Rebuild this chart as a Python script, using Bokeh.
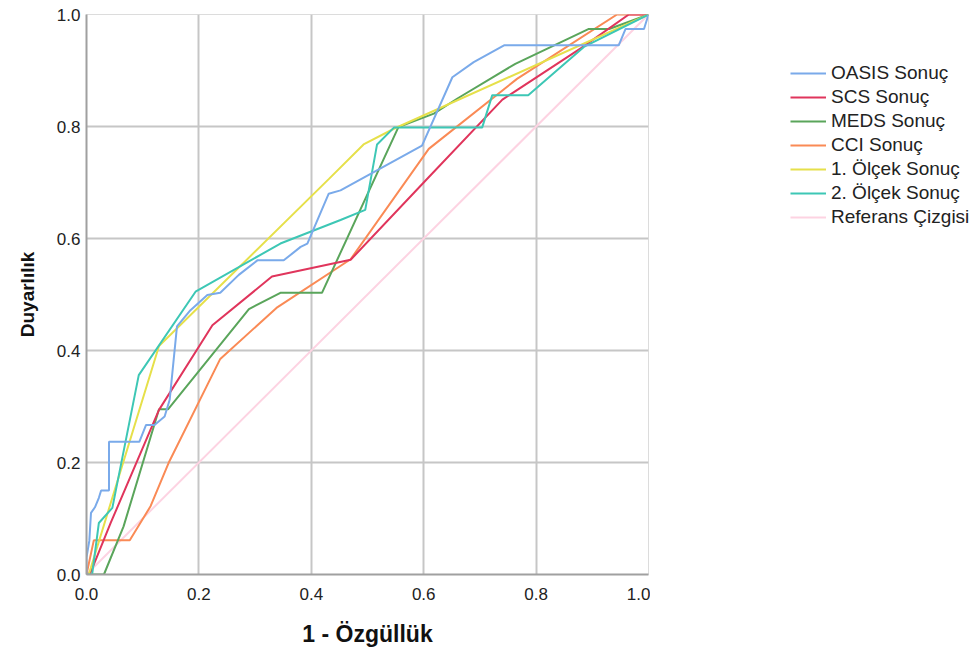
from bokeh.plotting import figure
from bokeh.models import Legend, LegendItem, FixedTicker
from bokeh.layouts import row
from bokeh.embed import file_html
from bokeh.resources import INLINE

# ---- data ----
oasis_x = [0.0, 0.0, 0.005, 0.008, 0.015, 0.022, 0.026, 0.04, 0.04, 0.094, 0.106, 0.121, 0.139, 0.148,
           0.161, 0.185, 0.215, 0.238, 0.271, 0.304, 0.351, 0.381, 0.393, 0.431, 0.452, 0.597, 0.651,
           0.689, 0.743, 0.947, 0.959, 0.992, 1.0]
oasis_y = [0.0, 0.03, 0.06, 0.11, 0.12, 0.137, 0.15, 0.15, 0.237, 0.237, 0.267, 0.267, 0.282, 0.312,
           0.443, 0.472, 0.499, 0.503, 0.535, 0.561, 0.561, 0.585, 0.591, 0.680, 0.686, 0.766, 0.888,
           0.915, 0.945, 0.945, 0.974, 0.974, 1.0]

scs_x = [0.0, 0.007, 0.043, 0.129, 0.224, 0.330, 0.470, 0.600, 0.740, 0.880, 0.965, 1.0]
scs_y = [0.0, 0.003, 0.092, 0.294, 0.445, 0.532, 0.562, 0.700, 0.848, 0.940, 1.0, 1.0]

meds_x = [0.0, 0.031, 0.066, 0.129, 0.145, 0.289, 0.345, 0.419, 0.555, 0.618, 0.660, 0.763, 0.893, 0.930, 1.0]
meds_y = [0.0, 0.0, 0.086, 0.295, 0.295, 0.474, 0.503, 0.503, 0.799, 0.823, 0.850, 0.912, 0.974, 0.974, 1.0]

cci_x = [0.0, 0.013, 0.077, 0.114, 0.146, 0.238, 0.338, 0.470, 0.609, 0.766, 0.944, 1.0]
cci_y = [0.0, 0.061, 0.061, 0.122, 0.199, 0.385, 0.476, 0.563, 0.760, 0.885, 1.0, 1.0]

olcek1_x = [0.0, 0.004, 0.129, 0.431, 0.493, 0.547, 1.0]
olcek1_y = [0.0, 0.0, 0.408, 0.706, 0.768, 0.796, 1.0]

olcek2_x = [0.0, 0.010, 0.022, 0.046, 0.093, 0.194, 0.345, 0.452, 0.496, 0.517, 0.547, 0.704,
            0.722, 0.786, 0.885, 1.0]
olcek2_y = [0.0, 0.0, 0.092, 0.119, 0.356, 0.505, 0.591, 0.633, 0.651, 0.768, 0.798, 0.798,
            0.856, 0.856, 0.942, 1.0]

ref_x = [0.0, 1.0]
ref_y = [0.0, 1.0]

series_names = ["OASIS Sonuç", "SCS Sonuç", "MEDS Sonuç", "CCI Sonuç",
                "1. Ölçek Sonuç", "2. Ölçek Sonuç", "Referans Çizgisi"]
series_x = [oasis_x, scs_x, meds_x, cci_x, olcek1_x, olcek2_x, ref_x]
series_y = [oasis_y, scs_y, meds_y, cci_y, olcek1_y, olcek2_y, ref_y]
colors = ["#7aaaea", "#e0355c", "#5aa55b", "#fa8a55", "#e6e04a", "#3dc7b5", "#fdd3e2"]

ticks = [0.0, 0.2, 0.4, 0.6, 0.8, 1.0]
x_title = "1 - Özgüllük"
y_title = "Duyarlılık"

FONT = "Liberation Sans"
H = 649

# ---- main chart ----
p = figure(width=650, height=H, output_backend="svg", toolbar_location=None,
           x_range=(0, 1), y_range=(0, 1),
           min_border_left=86, min_border_right=2, min_border_top=14, min_border_bottom=74)

p.outline_line_color = "#dcdcdc"
p.outline_line_width = 1
p.background_fill_color = "white"
p.border_fill_color = "white"

for ax in (p.xaxis[0], p.yaxis[0]):
    ax.ticker = FixedTicker(ticks=ticks)
    ax.major_label_text_font = FONT
    ax.major_label_text_font_size = "17px"
    ax.major_label_text_color = "#222222"
    ax.axis_label_text_font = FONT
    ax.axis_label_text_font_style = "bold"
    ax.axis_label_text_color = "#111111"
    ax.major_tick_in = 0
    ax.major_tick_out = 0
    ax.minor_tick_in = 0
    ax.minor_tick_out = 0
    ax.axis_line_color = "#a0a0a0"
    ax.axis_line_width = 2

p.xaxis[0].axis_label = x_title
p.yaxis[0].axis_label = y_title
p.xaxis[0].axis_label_text_font_size = "23px"
p.yaxis[0].axis_label_text_font_size = "19px"
p.xaxis[0].major_label_standoff = 13
p.yaxis[0].major_label_standoff = 6
p.xaxis[0].axis_label_standoff = 18
p.yaxis[0].axis_label_standoff = 16
p.xaxis[0].major_label_overrides = {t: f"{t:.1f}" for t in ticks}
p.yaxis[0].major_label_overrides = {t: f"{t:.1f}" for t in ticks}

p.xgrid.ticker = FixedTicker(ticks=ticks)
p.ygrid.ticker = FixedTicker(ticks=ticks)
p.xgrid.grid_line_color = "#c6c6c6"
p.ygrid.grid_line_color = "#c6c6c6"
p.xgrid.grid_line_width = 2
p.ygrid.grid_line_width = 2

order = [6, 3, 2, 1, 4, 5, 0]
for i in order:
    p.line(series_x[i], series_y[i], line_color=colors[i], line_width=2)

# ---- legend panel (separate figure; its lines lie outside its visible range) ----
q = figure(width=326, height=H, output_backend="svg", toolbar_location=None,
           x_range=(5, 6), y_range=(5, 6),
           min_border_left=140, min_border_right=0, min_border_top=14, min_border_bottom=74)
q.axis.visible = False
q.grid.visible = False
q.outline_line_color = None
q.background_fill_color = "white"
q.border_fill_color = "white"

rq = {}
for i in range(7):
    rq[i] = q.line(series_x[i], series_y[i], line_color=colors[i], line_width=2)

items = [LegendItem(label=series_names[i], renderers=[rq[i]]) for i in range(7)]
legend = Legend(items=items, location=(0, 346), orientation="vertical",
                glyph_width=36, glyph_height=20, label_height=20, spacing=2,
                label_standoff=5, padding=0, margin=0,
                label_text_font=FONT, label_text_font_size="19px", label_text_color="#222222",
                border_line_color=None, background_fill_alpha=0)
q.add_layout(legend, "center")

layout = row(p, q)
open("out.html", "w").write(file_html(layout, INLINE))
